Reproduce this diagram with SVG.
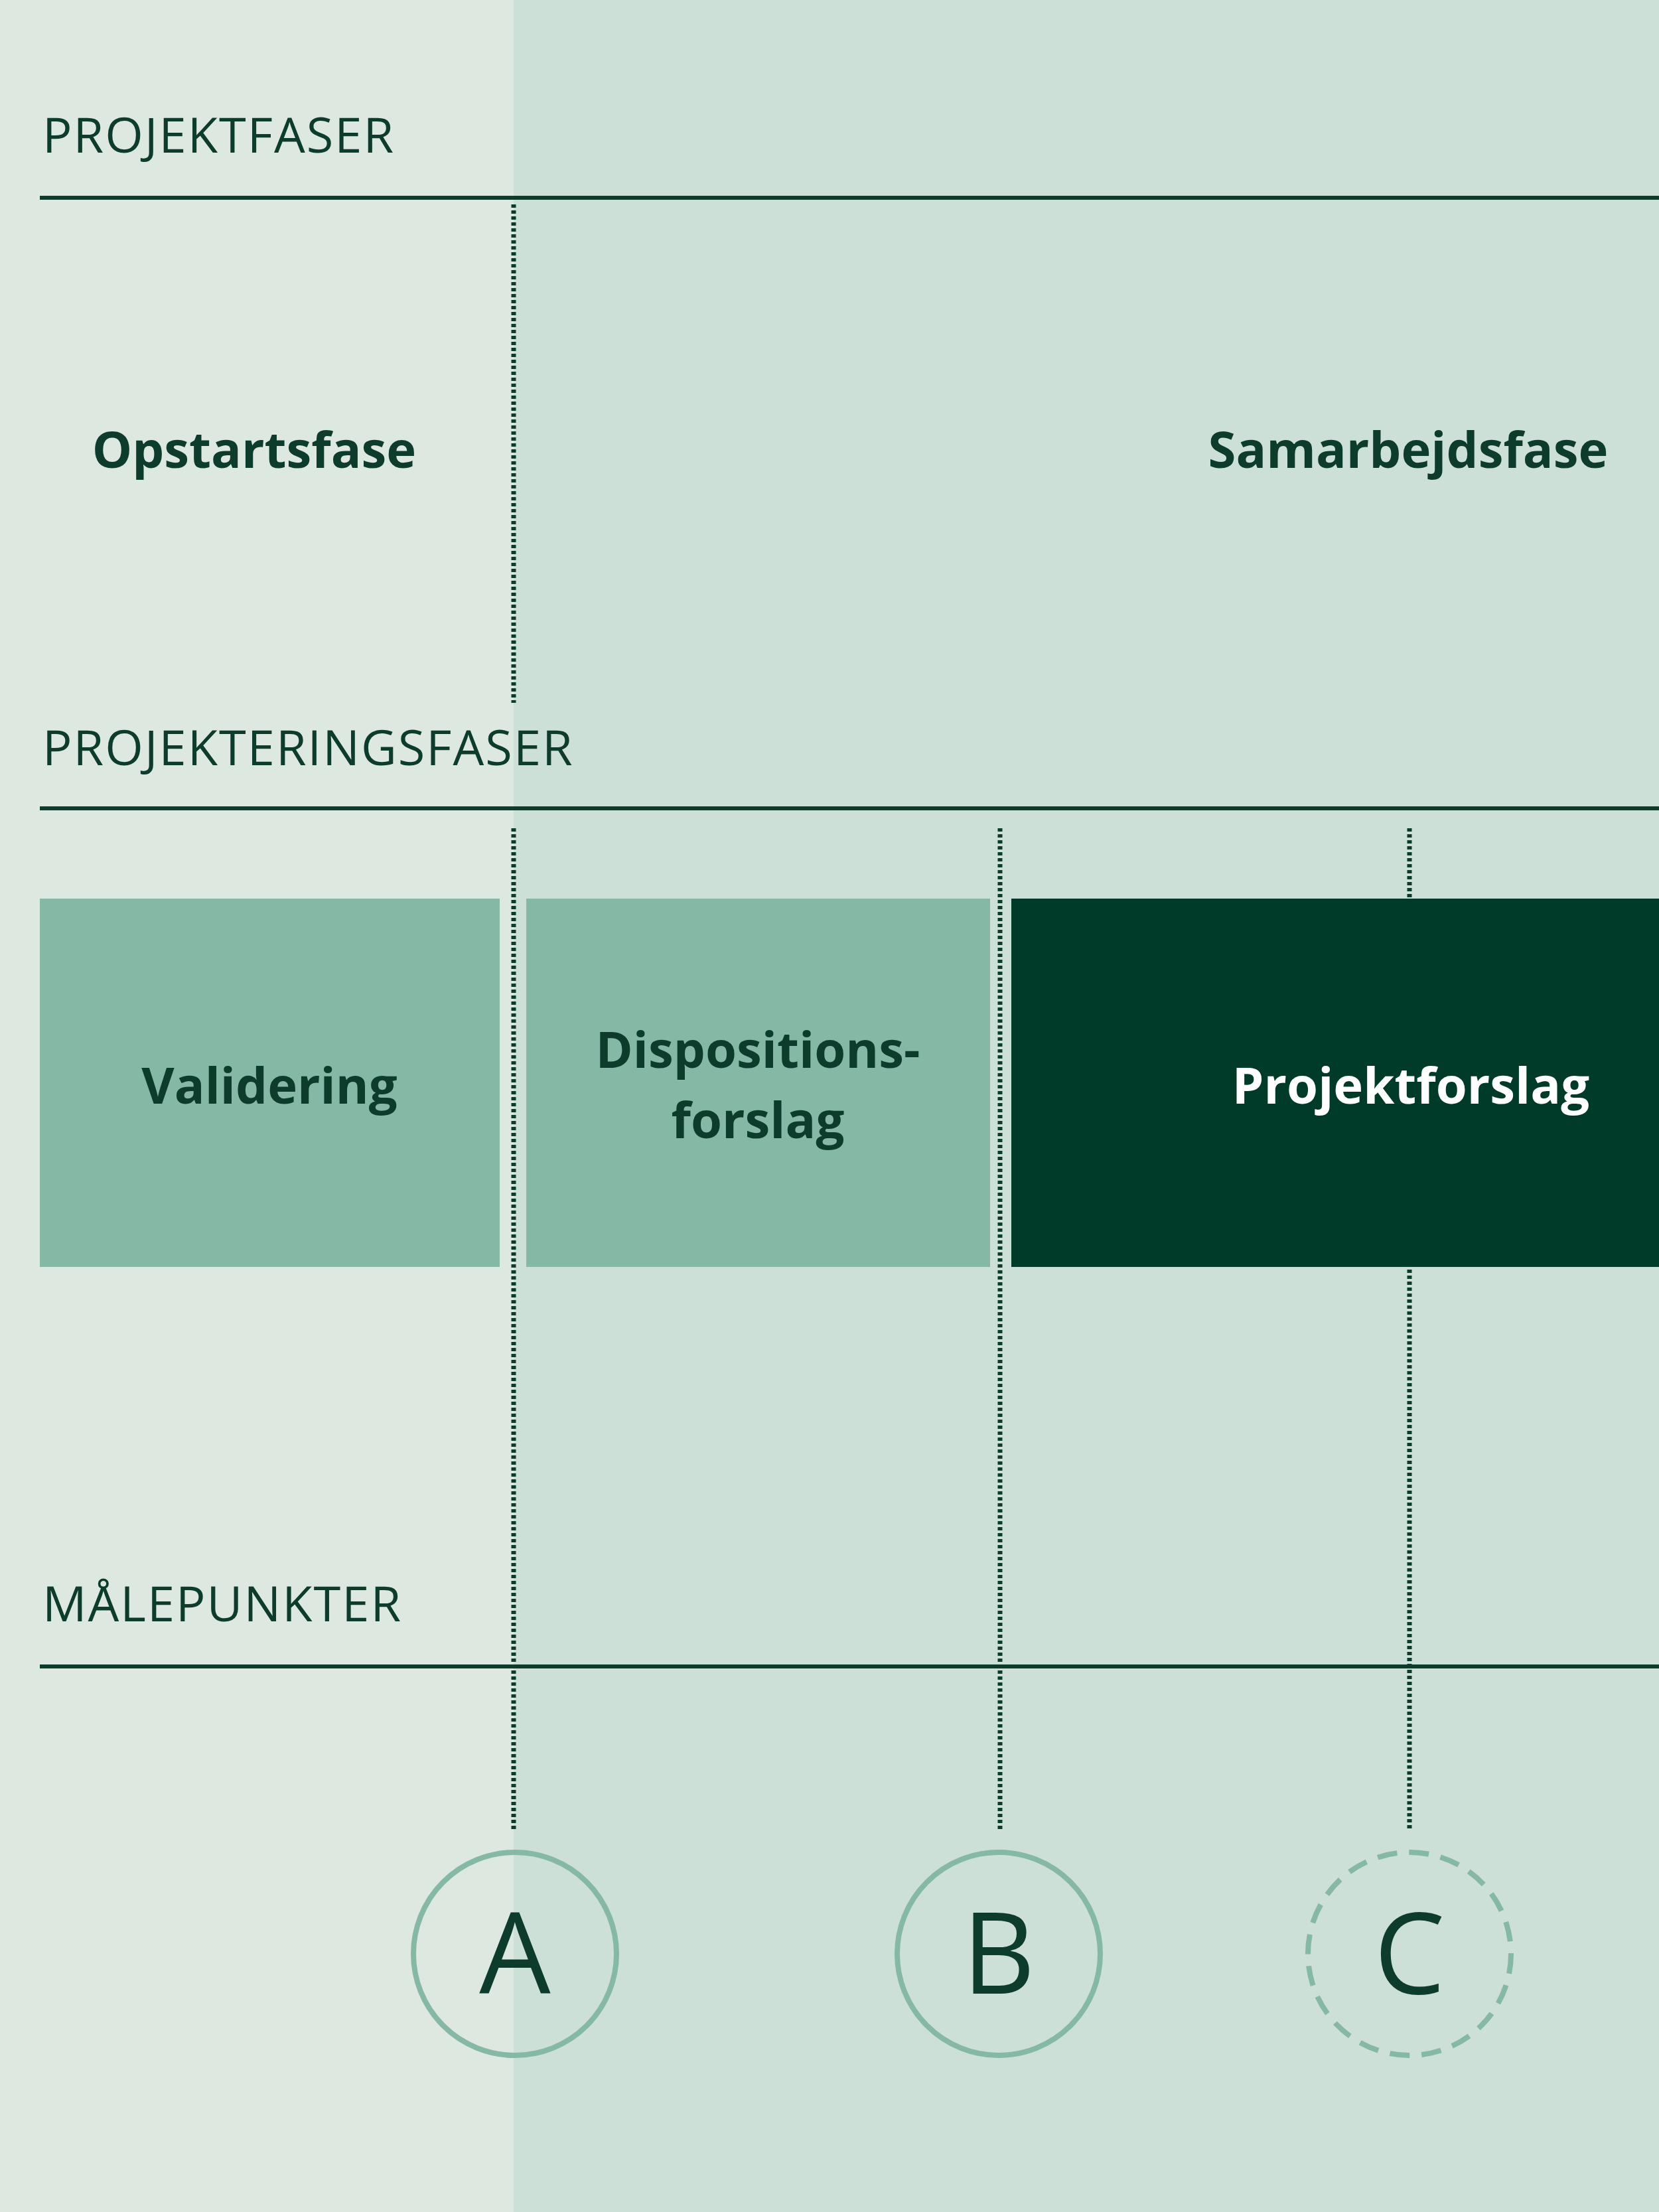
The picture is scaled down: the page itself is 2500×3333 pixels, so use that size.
<svg xmlns="http://www.w3.org/2000/svg" width="2500" height="3333" viewBox="0 0 2500 3333">
<style>
.h{font-family:"Open Sans","Noto Sans",sans-serif;font-size:74px;fill:#0d3b2c;letter-spacing:2px}
.b{font-family:"Open Sans","Noto Sans",sans-serif;font-size:76px;font-weight:bold;fill:#0d3b2c;text-anchor:middle}
.rule{stroke:#0d3b2c;stroke-width:6}
.dot{stroke:#0d3b2c;stroke-width:7;stroke-dasharray:5 4;fill:none}
.circ{fill:none;stroke:#85b8a5;stroke-width:8}
.L{font-family:"Open Sans","Noto Sans",sans-serif;font-size:170px;fill:#0d3b2c;text-anchor:middle}
</style>
<rect x="0" y="0" width="774" height="3333" fill="#dde8e0"/>
<rect x="774" y="0" width="1726" height="3333" fill="#cde0d7"/>
<g id="headers">
<text class="h" x="64" y="230">PROJEKTFASER</text>
<line class="rule" x1="60" y1="298" x2="2500" y2="298"/>
<text class="h" x="64" y="1153">PROJEKTERINGSFASER</text>
<line class="rule" x1="60" y1="1218" x2="2500" y2="1218"/>
<text class="h" x="64" y="2443">MÅLEPUNKTER</text>
<line class="rule" x1="60" y1="2511" x2="2500" y2="2511"/>
</g>
<g id="opstart"><text class="b" x="383" y="705">Opstartsfase</text></g>
<g id="samarbejd"><text class="b" x="2122" y="705">Samarbejdsfase</text></g>
<g id="validering"><rect x="60" y="1354" width="693" height="555" fill="#85b8a5"/><text class="b" x="406" y="1663">Validering</text></g>
<g id="disposition"><rect x="793" y="1354" width="699" height="555" fill="#85b8a5"/><text class="b" x="1142" y="1609">Dispositions-</text><text class="b" x="1142" y="1715">forslag</text></g>
<g id="projektforslag"><rect x="1524" y="1354" width="976" height="555" fill="#003a28"/><text class="b" x="2126" y="1663" fill="#ffffff" style="fill:#fff">Projektforslag</text></g>
<g id="connectors">
<line class="dot" x1="774" y1="308" x2="774" y2="1059"/>
<line class="dot" x1="774" y1="1248" x2="774" y2="2757"/>
<line class="dot" x1="1507" y1="1248" x2="1507" y2="2757"/>
<line class="dot" x1="2124" y1="1248" x2="2124" y2="1352"/>
<line class="dot" x1="2124" y1="1913" x2="2124" y2="2757"/>
</g>
<g id="A"><circle class="circ" cx="776" cy="2944" r="153"/><text class="L" x="776" y="3004">A</text></g>
<g id="B"><circle class="circ" cx="1505" cy="2944" r="153"/><text class="L" x="1505" y="3004">B</text></g>
<g id="C"><circle class="circ" cx="2124" cy="2944" r="153" stroke-dasharray="30 18"/><text class="L" x="2124" y="3004">C</text></g>
</svg>
